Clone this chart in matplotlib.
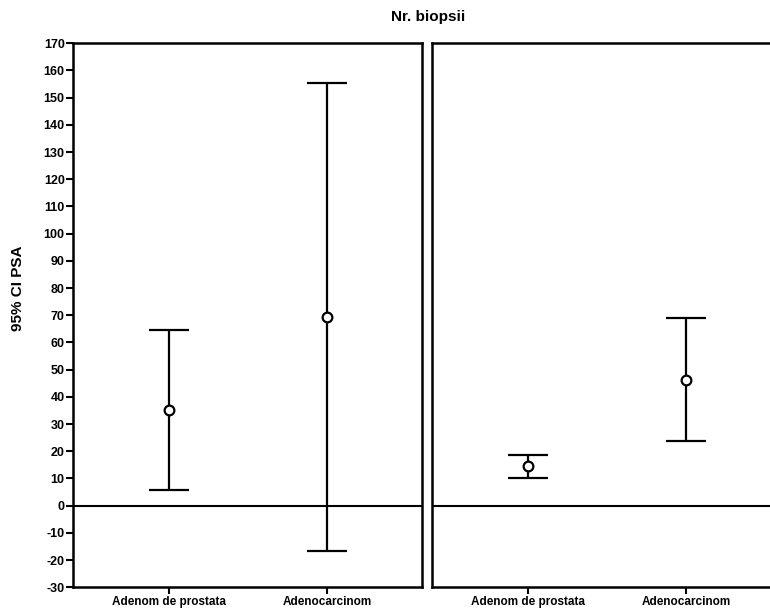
import matplotlib
matplotlib.use("Agg")
import matplotlib.pyplot as plt

# 95% CI of PSA by diagnosis, split by number of biopsies
categories = ["Adenom de prostata", "Adenocarcinom"]
panel1_mean = [35.3, 69.5]
panel1_low = [5.9, -16.5]
panel1_high = [64.7, 155.4]
panel2_mean = [14.5, 46.3]
panel2_low = [10.1, 23.8]
panel2_high = [18.8, 68.9]
y_ticks = list(range(-30, 171, 10))

plt.rcParams["font.family"] = ["Liberation Sans", "DejaVu Sans"]
plt.rcParams["font.weight"] = "bold"

fig = plt.figure(figsize=(7.7, 6.12), dpi=100)
bottom, height = 0.0404, 0.8889
ax1 = fig.add_axes([0.0948, bottom, 0.4532, height])
ax2 = fig.add_axes([0.5610, bottom, 0.4532, height], sharey=ax1)

panels = [(ax1, panel1_mean, panel1_low, panel1_high),
          (ax2, panel2_mean, panel2_low, panel2_high)]

for ax, mean, low, high in panels:
    x = list(range(len(categories)))
    yerr = [[m - l for m, l in zip(mean, low)], [h - m for m, h in zip(mean, high)]]
    ax.errorbar(x, mean, yerr=yerr, fmt="o", color="black", mfc="white",
                mec="black", ms=7, mew=1.6, elinewidth=1.6, capsize=14.5,
                capthick=1.6, zorder=3)
    ax.axhline(0, color="black", lw=1.5, zorder=2)
    ax.set_xlim(-0.607, 1.600)
    ax.set_ylim(-30, 170)
    ax.set_xticks(x)
    ax.set_xticklabels(categories, fontsize=8.5, fontweight="bold")
    ax.tick_params(axis="x", direction="out", length=5, width=1.5, pad=1.5)
    for s in ax.spines.values():
        s.set_linewidth(1.8)

ax1.set_yticks(y_ticks)
ax1.set_yticklabels([str(t) for t in y_ticks], fontsize=9, fontweight="bold")
ax1.tick_params(axis="y", direction="out", length=5, width=1.5, pad=1)
ax2.tick_params(axis="y", left=False, labelleft=False)

fig.text(0.556, 0.972, "Nr. biopsii", ha="center", va="center",
         fontsize=11, fontweight="bold")
fig.text(0.024, 0.529, "95% CI PSA", ha="center", va="center",
         rotation=90, fontsize=11, fontweight="bold")

fig.savefig("out.png", dpi=100, facecolor="white")
